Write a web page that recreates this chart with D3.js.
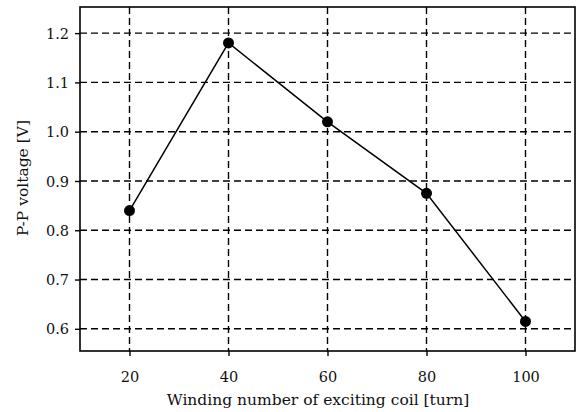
<!DOCTYPE html>
<html><head><meta charset="utf-8">
<script src="https://cdn.jsdelivr.net/npm/d3@7"></script>
<style>body{margin:0;background:#fff}svg{display:block}</style>
</head><body><svg id="c" width="580" height="412"></svg>
<script>
const turns = [20, 40, 60, 80, 100];
const voltage = [0.84, 1.18, 1.02, 0.875, 0.615];
const xTicks = [20, 40, 60, 80, 100];
const yTicks = [0.6, 0.7, 0.8, 0.9, 1.0, 1.1, 1.2];
const xTitle = "Winding number of exciting coil [turn]";
const yTitle = "P-P voltage [V]";

const svg = d3.select("#c");
const L = 80, R = 575, T = 7, B = 351;
const x = d3.scaleLinear().domain([10, 110]).range([L, R]);
const y = d3.scaleLinear().domain([0.555, 1.253]).range([B, T]);
const font = "'DejaVu Serif', serif";

// grid
const g = svg.append("g");
g.selectAll(".hg").data(yTicks).join("line")
  .attr("x1", L).attr("x2", R).attr("y1", d => y(d)).attr("y2", d => y(d))
  .attr("stroke", "#000").attr("stroke-width", 1.4).attr("stroke-dasharray", "7,4");
g.selectAll(".vg").data(xTicks).join("line")
  .attr("y1", T).attr("y2", B).attr("x1", d => x(d)).attr("x2", d => x(d))
  .attr("stroke", "#000").attr("stroke-width", 1.4).attr("stroke-dasharray", "7,4");

// axes
const xAxis = d3.axisBottom(x).tickValues(xTicks).tickSize(5).tickFormat(d3.format("d"));
const yAxis = d3.axisLeft(y).tickValues(yTicks).tickSize(5).tickFormat(d3.format(".1f"));
const xa = svg.append("g").attr("transform", `translate(0,${B})`).call(xAxis);
const ya = svg.append("g").attr("transform", `translate(${L},0)`).call(yAxis);
[xa, ya].forEach(a => {
  a.select(".domain").remove();
  a.selectAll(".tick line").attr("stroke", "#000").attr("stroke-width", 1.4);
  a.selectAll("text").attr("font-family", font).attr("font-size", 14.5).attr("fill", "#111");
});
xa.selectAll("text").attr("dy", null).attr("y", 31);
ya.selectAll("text").attr("x", -11).attr("dy", "0.35em");

// frame
svg.append("rect").attr("x", L).attr("y", T).attr("width", R - L).attr("height", B - T)
  .attr("fill", "none").attr("stroke", "#000").attr("stroke-width", 1.6);

// line + markers
const pts = turns.map((t, i) => [t, voltage[i]]);
svg.append("path").datum(pts)
  .attr("d", d3.line().x(d => x(d[0])).y(d => y(d[1])))
  .attr("fill", "none").attr("stroke", "#000").attr("stroke-width", 1.5);
svg.selectAll(".pt").data(pts).join("circle")
  .attr("cx", d => x(d[0])).attr("cy", d => y(d[1])).attr("r", 5.5).attr("fill", "#000");

// titles
svg.append("text").attr("x", 318).attr("y", 405).attr("text-anchor", "middle")
  .attr("font-family", font).attr("font-size", 15.5).attr("fill", "#111").text(xTitle);
svg.append("text").attr("transform", "translate(28,178) rotate(-90)").attr("text-anchor", "middle")
  .attr("font-family", font).attr("font-size", 15.5).attr("fill", "#111").text(yTitle);
</script></body></html>
